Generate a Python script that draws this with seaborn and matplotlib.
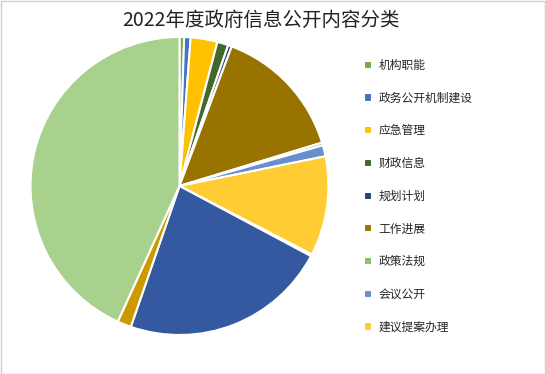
import matplotlib
matplotlib.use("Agg")
import matplotlib.pyplot as plt
from matplotlib.patches import Rectangle
import seaborn as sns

# slices clockwise from 12 o'clock; only the first nine appear in the legend
categories = [
    "机构职能", "政务公开机制建设", "应急管理", "财政信息", "规划计划",
    "工作进展", "政策法规", "会议公开", "建议提案办理",
    "人事信息", "业务工作", "统计信息", "其他",
]
counts = [5, 7, 29, 12, 4, 146, 3, 12, 108, 2, 225, 15, 432]
colors = [
    "#70AD47", "#4472C4", "#FFC000", "#43682B", "#264478", "#997300",
    "#8CC168", "#698ED0", "#FFCD33", "#548235", "#3459A0", "#CC9A00", "#A9D18E",
]
legend_count = 9

sns.set_style("white")
plt.rcParams["font.family"] = ["Noto Sans CJK SC", "DejaVu Sans"]

W, H = 546, 374
fig = plt.figure(figsize=(W / 100, H / 100), dpi=100)
fig.patches.append(Rectangle((0.5 / W, 0.5 / H), 1 - 1.5 / W, 1 - 1.5 / H,
                             transform=fig.transFigure, fill=False,
                             edgecolor="#d0d0d0", linewidth=1))

cx, cy, r = 179.5, 374 - 186, 149
half = 152
ax = fig.add_axes([(cx - half) / W, (cy - half) / H, 2 * half / W, 2 * half / H])
wedges, _ = ax.pie(counts, colors=sns.color_palette(colors), startangle=90,
                   counterclock=False, radius=1,
                   wedgeprops=dict(edgecolor="white", linewidth=1.5))
lim = half / r
ax.set_xlim(-lim, lim)
ax.set_ylim(-lim, lim)
ax.set_aspect("equal")
ax.axis("off")

fig.text(261 / W, 1 - 20 / H, "2022年度政府信息公开内容分类",
         ha="center", va="center", fontsize=14, color="#222222")

fig.legend(wedges[:legend_count], categories[:legend_count],
           loc="upper left", bbox_to_anchor=(358 / W, 1 - 53 / H),
           frameon=False, fontsize=8.5, handlelength=0.7, handleheight=0.7,
           handletextpad=0.55, labelspacing=1.67, borderpad=0)

fig.savefig("out.png", dpi=100)
